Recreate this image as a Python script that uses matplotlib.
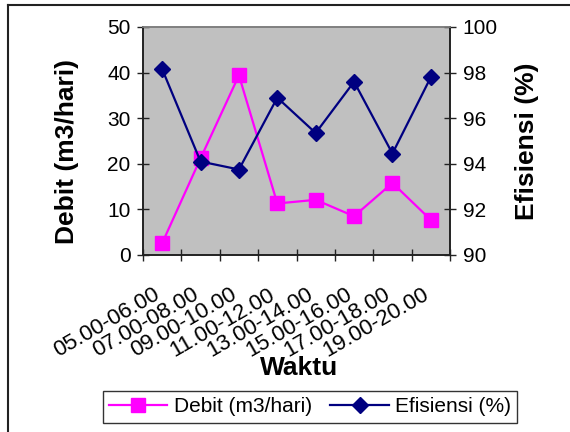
import matplotlib
matplotlib.use("Agg")
import matplotlib.pyplot as plt
from matplotlib.lines import Line2D
from matplotlib.transforms import ScaledTranslation
import numpy as np

plt.rcParams['font.family'] = ['Liberation Sans', 'DejaVu Sans']

categories = ["05.00-06.00", "07.00-08.00", "09.00-10.00", "11.00-12.00",
              "13.00-14.00", "15.00-16.00", "17.00-18.00", "19.00-20.00"]
debit = [2.6, 21.2, 39.4, 11.3, 12.1, 8.5, 15.8, 7.7]
efisiensi = [98.15, 94.1, 93.75, 96.9, 95.35, 97.6, 94.45, 97.8]
left_ticks = [0, 10, 20, 30, 40, 50]
right_ticks = [90, 92, 94, 96, 98, 100]

W, H = 570, 432
fig = plt.figure(figsize=(W / 100, H / 100), dpi=100)
fig.patch.set_facecolor('white')

# figure border (top & left visible)
fig.add_artist(Line2D([8 / W, 1.0], [1 - 5 / H, 1 - 5 / H], color='#222222', lw=1.5,
                      transform=fig.transFigure))
fig.add_artist(Line2D([8 / W, 8 / W], [0.0, 1 - 5 / H], color='#222222', lw=1.5,
                      transform=fig.transFigure))

x0, x1, y0, y1 = 143, 450, 27, 255
ax = fig.add_axes([x0 / W, 1 - y1 / H, (x1 - x0) / W, (y1 - y0) / H])
ax.set_facecolor('#C0C0C0')
ax2 = ax.twinx()

n = len(categories)
xpos = np.arange(n) + 0.5

l1, = ax.plot(xpos, debit, color='#FF00FF', lw=1.6, marker='s', markersize=10,
              markerfacecolor='#FF00FF', markeredgecolor='#FF00FF', label='Debit (m3/hari)',
              zorder=3)
l2, = ax2.plot(xpos, efisiensi, color='#000080', lw=1.6, marker='D', markersize=8,
               markerfacecolor='#000080', markeredgecolor='#000080', label='Efisiensi (%)',
               zorder=3)

ax.set_xlim(0, n)
ax.set_ylim(0, 50)
ax2.set_ylim(90, 100)
ax.set_yticks(left_ticks)
ax2.set_yticks(right_ticks)

# category boundary ticks
ax.set_xticks(np.arange(n + 1))
ax.set_xticklabels([])
ax.tick_params(axis='x', which='major', direction='inout', length=8, width=1, color='#222222')

# rotated category labels
lab_tr = ax.get_xaxis_transform() + ScaledTranslation(-9 / 100, -29 / 100, fig.dpi_scale_trans)
for xp, c in zip(xpos, categories):
    ax.text(xp, 0, c, transform=lab_tr, rotation=30, ha='right', va='top',
            rotation_mode='anchor', fontsize=16, clip_on=False)

ax.tick_params(axis='y', direction='inout', length=8, width=1, labelsize=15, pad=5, color='#222222')
ax2.tick_params(axis='y', direction='inout', length=8, width=1, labelsize=15, pad=5, color='#222222')

for a in (ax, ax2):
    a.spines['top'].set_color('#808080')
    a.spines['left'].set_color('#222222')
    a.spines['bottom'].set_color('#222222')
    a.spines['right'].set_color('#222222')
    for s in a.spines.values():
        s.set_linewidth(1.2)

ax.set_ylabel('Debit (m3/hari)', fontsize=19, fontweight='bold', va='center')
ax.yaxis.set_label_coords(-0.248, 0.454)
ax2.set_ylabel('Efisiensi (%)', fontsize=19, fontweight='bold', rotation=90, va='center')
ax2.yaxis.set_label_coords(1.25, 0.5)
ax.set_xlabel('Waktu', fontsize=19, fontweight='bold')
ax.xaxis.set_label_coords(0.508, -0.495)
ax.xaxis.label.set_va('center')

leg = fig.legend(handles=[l1, l2], loc='center',
                 bbox_to_anchor=(310 / W, 1 - 407 / H), ncol=2, fontsize=15,
                 frameon=True, fancybox=False, edgecolor='black', handlelength=2.8,
                 columnspacing=0.9, handletextpad=0.3, borderpad=0.3, borderaxespad=0)
leg.get_frame().set_linewidth(1.0)

fig.savefig('out.png', dpi=100, facecolor='white')
